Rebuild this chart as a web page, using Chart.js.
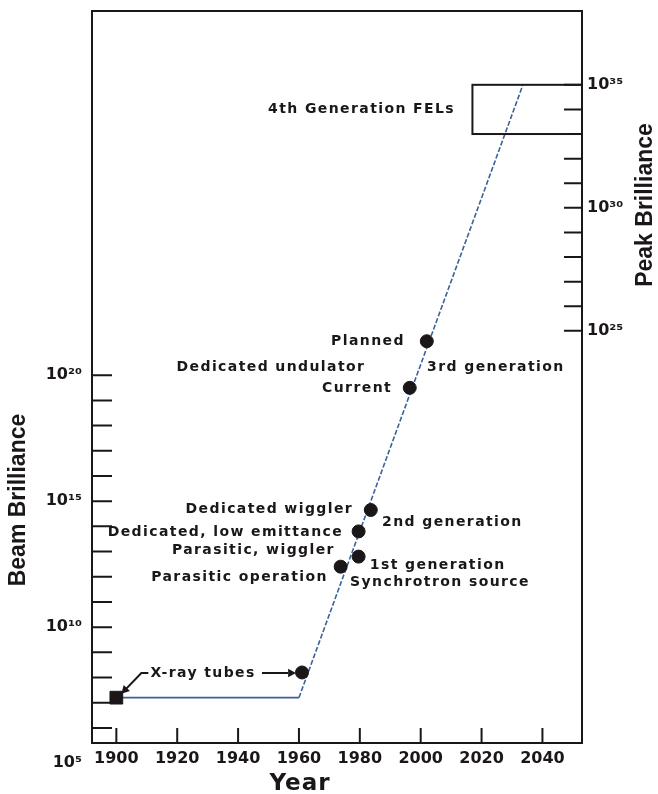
<!DOCTYPE html>
<html>
<head>
<meta charset="utf-8">
<script src="https://cdn.jsdelivr.net/npm/chart.js@4.4.0/dist/chart.umd.min.js"></script>
<style>
  html, body { margin: 0; padding: 0; background: #fff; }
  #wrap { width: 658px; height: 794px; }
</style>
</head>
<body>
<div id="wrap"><canvas id="brilliance-chart" width="658" height="794"></canvas></div>
<script>
// values, brilliance kept as log10
var trendYears = [1900, 1960, 2033.5];
var trendLog = [7.2, 7.2, 31.5];

var sourceNames = ['X-ray tube', 'Rotating anode', 'Parasitic operation', 'Parasitic, wiggler', 'Dedicated, low emittance', 'Dedicated wiggler', 'Current', 'Planned'];
var sourceYears = [1900, 1961, 1973.7, 1979.6, 1979.6, 1983.6, 1996.4, 2002];
var sourceLog = [7.2, 8.2, 12.4, 12.8, 13.8, 14.65, 19.5, 21.35];

var yearTicks = [1900, 1920, 1940, 1960, 1980, 2000, 2020, 2040];
var beamTicks = [6, 7, 8, 9, 10, 11, 12, 13, 14, 15, 16, 17, 18, 19, 20];
var beamLabels = [10, 15, 20];
var peakTicks = [25, 26, 27, 28, 29, 30, 31, 32, 33, 34, 35];
var peakLabels = [25, 30, 35];

// FEL box: years and peak-brilliance exponents
var felYears = [2017, 2053];
var felLog = [33, 35];

var INK = '#1b1718';
var BLUE = '#3d6296';
var FONT = 'DejaVu Sans';

function sup(n) {
    var map = {'0': '⁰', '1': '¹', '2': '²', '3': '³', '4': '⁴', '5': '⁵', '6': '⁶', '7': '⁷', '8': '⁸', '9': '⁹'};
    return '10' + String(n).split('').map(function(c) { return map[c]; }).join('');
}

// annotation texts, anchored in data units (year, log10 beam brilliance)
var notes = [
    { text: 'Planned', x: 1994.8, y: 21.36, align: 'right' },
    { text: 'Dedicated undulator', x: 1950.8, y: 20.33, align: 'center' },
    { text: '3rd generation', x: 2002.1, y: 20.33, align: 'left' },
    { text: 'Current', x: 1990.6, y: 19.49, align: 'right' },
    { text: 'Dedicated wiggler', x: 1977.8, y: 14.69, align: 'right' },
    { text: '2nd generation', x: 1987.3, y: 14.17, align: 'left' },
    { text: 'Dedicated, low emittance', x: 1974.5, y: 13.78, align: 'right' },
    { text: 'Parasitic, wiggler', x: 1971.8, y: 13.06, align: 'right' },
    { text: '1st generation', x: 1983.3, y: 12.47, align: 'left' },
    { text: 'Synchrotron source', x: 1976.8, y: 11.79, align: 'left' },
    { text: 'Parasitic operation', x: 1969.5, y: 11.99, align: 'right' },
    { text: 'X-ray tubes', x: 1928.5, y: 8.18, align: 'center' },
    { text: '4th Generation FELs', x: 2011.3, y: 30.57, align: 'right' }
];

function label(ctx, str, x, y, align, size, spacing) {
    ctx.save();
    ctx.font = 'bold ' + size + 'px "' + FONT + '"';
    ctx.letterSpacing = (spacing || 0) + 'px';
    ctx.fillStyle = INK;
    ctx.textAlign = align;
    ctx.textBaseline = 'middle';
    ctx.fillText(str, x, y);
    ctx.restore();
}

function arrowHead(ctx, x0, y0, x1, y1, size) {
    var a = Math.atan2(y1 - y0, x1 - x0);
    ctx.beginPath();
    ctx.moveTo(x1, y1);
    ctx.lineTo(x1 - size * Math.cos(a - 0.5), y1 - size * Math.sin(a - 0.5));
    ctx.lineTo(x1 - size * Math.cos(a + 0.5), y1 - size * Math.sin(a + 0.5));
    ctx.closePath();
    ctx.fill();
}

// no extra room for half tick labels, the frame fills the canvas
function noPad(s) {
    s.paddingTop = 0;
    s.paddingBottom = 0;
}

// ticks pointing into the plot, box, texts and titles
var decorations = {
    id: 'decorations',
    afterDraw: function(chart) {
        var ctx = chart.ctx;
        var area = chart.chartArea;
        var x = chart.scales.x, y = chart.scales.y, y2 = chart.scales.y2;

        ctx.save();
        ctx.strokeStyle = INK;
        ctx.fillStyle = INK;
        ctx.lineWidth = 2;

        // top frame line
        ctx.beginPath();
        ctx.moveTo(area.left, area.top);
        ctx.lineTo(area.right, area.top);
        ctx.stroke();

        ctx.beginPath();
        yearTicks.forEach(function(v) {
            var px = x.getPixelForValue(v);
            ctx.moveTo(px, area.bottom);
            ctx.lineTo(px, area.bottom - 15);
        });
        beamTicks.forEach(function(v) {
            var py = y.getPixelForValue(v);
            ctx.moveTo(area.left, py);
            ctx.lineTo(area.left + 20, py);
        });
        peakTicks.forEach(function(v) {
            var py = y2.getPixelForValue(v);
            ctx.moveTo(area.right, py);
            ctx.lineTo(area.right - 18, py);
        });
        ctx.stroke();

        // 4th generation box
        var bx0 = x.getPixelForValue(felYears[0]);
        var bx1 = Math.min(x.getPixelForValue(felYears[1]), area.right);
        var by0 = y2.getPixelForValue(felLog[1]);
        var by1 = y2.getPixelForValue(felLog[0]);
        ctx.strokeRect(bx0, by0, bx1 - bx0, by1 - by0);

        notes.forEach(function(n) {
            label(ctx, n.text, x.getPixelForValue(n.x), y.getPixelForValue(n.y), n.align, 14, 1.4);
        });

        // arrows for the x-ray tube markers
        var ty = y.getPixelForValue(8.18);
        var p0x = x.getPixelForValue(sourceYears[0]), p0y = y.getPixelForValue(sourceLog[0]);
        var p1x = x.getPixelForValue(sourceYears[1]);
        ctx.lineWidth = 2;
        ctx.beginPath();
        ctx.moveTo(p0x + 32, ty);
        ctx.lineTo(p0x + 25, ty);
        ctx.lineTo(p0x + 9, p0y - 8);
        ctx.stroke();
        arrowHead(ctx, p0x + 25, ty, p0x + 5, p0y - 4, 9);
        ctx.beginPath();
        ctx.moveTo(p1x - 40, ty);
        ctx.lineTo(p1x - 14, ty);
        ctx.stroke();
        arrowHead(ctx, p1x - 40, ty, p1x - 6, ty, 9);

        // 10^5 sits under the corner of the frame
        label(ctx, sup(5), area.left - 10, area.bottom + 20, 'right', 16, 0);

        label(ctx, 'Year', 300, 784, 'center', 23, 1);

        ctx.save();
        ctx.font = 'bold 23px "Liberation Sans"';
        ctx.textAlign = 'center';
        ctx.textBaseline = 'middle';
        ctx.translate(19, 500);
        ctx.rotate(-Math.PI / 2);
        ctx.fillText('Beam Brilliance', 0, 0);
        ctx.restore();

        ctx.save();
        ctx.font = 'bold 23px "Liberation Sans"';
        ctx.textAlign = 'center';
        ctx.textBaseline = 'middle';
        ctx.translate(646, 205);
        ctx.rotate(-Math.PI / 2);
        ctx.fillText('Peak Brilliance', 0, 0);
        ctx.restore();

        ctx.restore();
    }
};

var tickFont = { family: FONT, size: 16, weight: 'bold' };

var ctx = document.getElementById('brilliance-chart').getContext('2d');
var myChart = new Chart(ctx, {
    type: 'scatter',
    data: {
        datasets: [{
            label: 'Sources',
            data: sourceYears.map(function(v, i) { return { x: v, y: sourceLog[i] }; }),
            pointStyle: sourceYears.map(function(v, i) { return i === 0 ? 'rect' : 'circle'; }),
            pointRadius: sourceYears.map(function(v, i) { return i === 0 ? 9 : 6.5; }),
            backgroundColor: INK,
            borderColor: INK,
            borderWidth: 1,
            order: 0
        }, {
            type: 'line',
            label: 'Trend',
            data: trendYears.map(function(v, i) { return { x: v, y: trendLog[i] }; }),
            borderColor: BLUE,
            borderWidth: 1.6,
            pointRadius: 0,
            fill: false,
            segment: {
                borderDash: function(c) { return c.p0DataIndex === 0 ? [] : [5, 2]; }
            },
            order: 1
        }]
    },
    options: {
        responsive: false,
        devicePixelRatio: 1,
        animation: false,
        layout: { padding: { top: 11, left: 0, right: 0, bottom: 0 } },
        plugins: {
            legend: { display: false },
            tooltip: { enabled: false }
        },
        scales: {
            x: {
                type: 'linear',
                position: 'bottom',
                min: 1892,
                max: 2053,
                afterBuildTicks: function(s) { s.ticks = yearTicks.map(function(v) { return { value: v }; }); },
                afterFit: function(s) { s.height = 51; s.paddingLeft = 0; s.paddingRight = 0; },
                grid: { display: false, drawTicks: false },
                border: { display: true, color: INK, width: 2 },
                ticks: {
                    font: tickFont, color: INK, padding: 6, maxRotation: 0, autoSkip: false,
                    callback: function(v) { return String(v); }
                }
            },
            y: {
                type: 'linear',
                position: 'left',
                min: 5.4,
                max: 34.46,
                afterBuildTicks: function(s) { s.ticks = beamTicks.map(function(v) { return { value: v }; }); },
                afterFit: function(s) { s.width = 92; noPad(s); },
                grid: { display: false, drawTicks: false },
                border: { display: true, color: INK, width: 2 },
                ticks: {
                    font: tickFont, color: INK, padding: 10, autoSkip: false,
                    callback: function(v) { return beamLabels.indexOf(v) >= 0 ? sup(v) : ''; }
                }
            },
            y2: {
                type: 'linear',
                position: 'right',
                min: 8.25,
                max: 38.0,
                afterBuildTicks: function(s) { s.ticks = peakTicks.map(function(v) { return { value: v }; }); },
                afterFit: function(s) { s.width = 76; noPad(s); },
                grid: { display: false, drawTicks: false },
                border: { display: true, color: INK, width: 2 },
                ticks: {
                    font: tickFont, color: INK, padding: 5, autoSkip: false,
                    callback: function(v) { return peakLabels.indexOf(v) >= 0 ? sup(v) : ''; }
                }
            }
        }
    },
    plugins: [decorations]
});
</script>
</body>
</html>
